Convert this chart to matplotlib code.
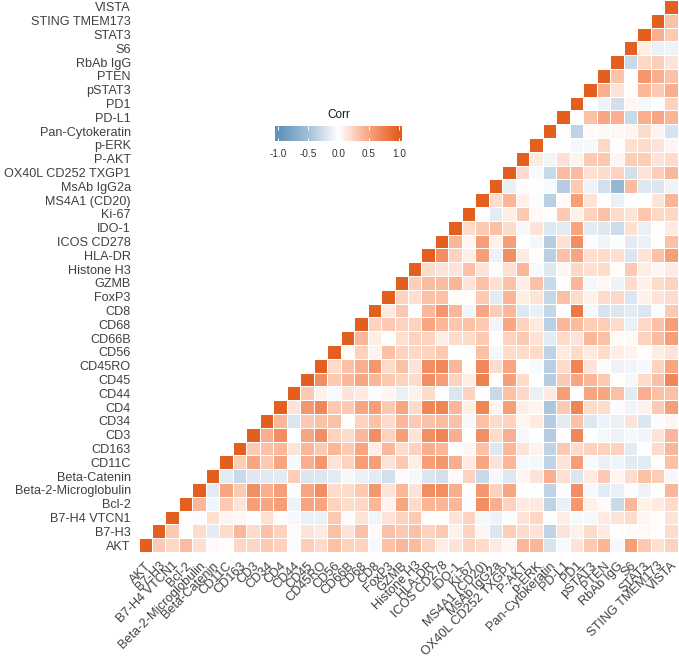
import numpy as np
from matplotlib import pyplot as plt
from matplotlib.colors import LinearSegmentedColormap, Normalize

plt.rcParams['font.family'] = ['Liberation Sans', 'DejaVu Sans']

markers = ['AKT', 'B7-H3', 'B7-H4 VTCN1', 'Bcl-2', 'Beta-2-Microglobulin', 'Beta-Catenin',
           'CD11C', 'CD163', 'CD3', 'CD34', 'CD4', 'CD44', 'CD45', 'CD45RO', 'CD56', 'CD66B',
           'CD68', 'CD8', 'FoxP3', 'GZMB', 'Histone H3', 'HLA-DR', 'ICOS CD278', 'IDO-1',
           'Ki-67', 'MS4A1 (CD20)', 'MsAb IgG2a', 'OX40L CD252 TXGP1', 'P-AKT', 'p-ERK',
           'Pan-Cytokeratin', 'PD-L1', 'PD1', 'pSTAT3', 'PTEN', 'RbAb IgG', 'S6', 'STAT3',
           'STING TMEM173', 'VISTA']
bar_ticks = [-1.0, -0.5, 0.0, 0.5, 1.0]

# correlations, each row starts right after the diagonal
r00 = [.3,.22,.38,.18,.03,.01,.23,.23,.3,.25,-.03,.27,.2,.35,.25,.25,-.04,.35,.4,.38,.25,.1,.15,.25,.2,.12,.05,.4,.4,-.22,-.04,.15,.3,.42,-.06,.55,.3,.18,.25]
r01 = [.3,0,.2,-.15,.2,.4,.2,.35,.25,.03,.15,.12,.35,.15,.35,.03,.35,.3,.35,.25,.3,.08,.25,.05,-.2,.28,.2,.15,-.35,.15,.08,.2,.12,.02,.03,.03,.02,.2]
r02 = [0,-.03,.18,.06,.04,-.02,.18,.02,-.05,-.12,-.12,.3,-.03,.15,-.08,.15,.25,.3,.02,.02,.15,.25,-.06,-.1,-.03,.15,.22,0,.1,-.04,-.05,.12,.15,.2,.05,.02,.15]
r03 = [.4,-.08,.3,.15,.55,.5,.55,-.1,.5,.5,.25,.2,.22,.4,.07,.5,.2,.42,.42,.4,-.03,.65,.45,.25,.12,.12,-.35,-.12,.6,.08,.03,-.3,.4,.08,.12,.2]
r04 = [-.15,.5,.3,.65,.45,.55,-.03,.5,.65,.2,.2,.3,.6,.15,.4,.15,.65,.65,.45,-.02,.6,.25,.5,-.01,-.01,-.35,-.03,.65,-.05,-.15,-.12,-.03,-.1,.01,.4]
r05 = [-.15,-.3,-.18,-.17,-.15,.28,-.2,-.2,-.15,-.05,-.12,-.15,-.25,-.03,-.05,-.2,-.25,.03,.25,-.3,-.05,-.18,.05,.15,.45,.18,-.2,.12,.3,.05,.2,.35,.28,-.06]
r06 = [.28,.5,.3,.5,-.05,.45,.6,.15,.25,.55,.55,.15,.3,.1,.55,.6,.45,.12,.5,.15,.4,-.05,-.06,-.35,.15,.55,-.04,-.12,-.08,-.15,-.15,.02,.35]
r07 = [.3,.35,.4,.15,.4,.3,.4,.3,.5,.1,.4,.2,.25,.45,.4,.02,.05,.35,-.18,.4,.15,.07,-.35,.3,.2,.25,.25,.25,-.15,0,.2,.4]
r08 = [.45,.65,-.02,.5,.65,.25,.2,.4,.65,.25,.55,.15,.65,.72,.45,-.01,.65,.2,.45,-.05,-.01,-.4,.02,.7,0,-.06,-.1,-.05,-.08,.15,.4]
r09 = [.4,-.2,.3,.35,.35,0,.25,.35,.2,.4,.3,.35,.38,.35,-.05,.35,.2,.25,.05,.12,-.4,-.15,.35,-.18,-.1,-.12,.15,-.2,-.03,.05]
r10 = [.15,.6,.7,.3,.3,.5,.55,.3,.5,.2,.7,.72,.4,.1,.72,.05,.55,.1,.05,-.45,.3,.72,.2,.2,-.03,-.08,.08,.3,.55]
r11 = [.3,.08,-.04,.15,.12,-.03,.05,-.12,.08,.2,0,-.2,.25,0,-.3,.35,.22,-.12,.12,.55,0,.5,.5,.35,-.15,.45,.35,.35]
r12 = [.65,.3,.4,.5,.4,.3,.25,.2,.65,.55,.25,.1,.75,.02,.55,.2,0,-.4,.3,.5,.4,.3,.02,-.06,.2,.35,.7]
r13 = [.2,.35,.45,.6,.2,.35,.15,.65,.7,.4,.02,.7,.2,.5,.01,-.04,-.38,.2,.72,.15,-.03,-.1,-.08,-.05,.25,.5]
r14 = [.01,.25,.07,.35,.25,.22,.25,.3,0,-.01,.35,-.06,.2,.2,.2,-.35,.12,.2,.12,.2,.1,.07,.02,.1,.15]
r15 = [.4,.1,0,.18,.25,.25,.1,.2,.2,.3,0,.25,.3,.15,-.15,.2,.15,.4,.35,.03,.03,.25,.38,.55]
r16 = [.25,.3,.25,.25,.5,.4,.32,.35,.3,-.08,.5,.25,.12,-.38,.4,.38,.28,.28,.2,-.12,.22,.35,.55]
r17 = [.12,.32,-.03,.4,.6,.4,-.08,.5,.28,.4,-.18,-.12,-.32,0,.8,-.05,-.22,-.2,-.15,-.2,-.03,.3]
r18 = [.25,.18,.35,.35,.02,.02,.3,-.15,.42,.1,.15,-.32,.35,.2,.08,.2,.22,-.2,.08,.15,.2]
r19 = [.28,.38,.38,.42,.15,.35,.18,.35,.1,.35,-.3,.01,.4,-.06,.04,-.1,.2,.08,.2,.25]
r20 = [.2,.15,.15,.35,.15,.01,.18,.4,-.04,-.18,.05,.22,.18,.2,.02,.3,.1,.05,.12]
r21 = [.65,.25,.1,.55,-.1,.65,.12,.01,-.38,.35,.5,.18,.2,.18,-.2,.15,.35,.55]
r22 = [.4,.05,.55,.08,.55,0,-.06,-.4,.18,.65,-.03,-.08,-.03,-.15,-.12,.02,.35]
r23 = [.2,.3,.35,.2,-.05,.15,-.18,-.15,.5,-.15,-.18,-.28,.18,-.12,0,.12]
r24 = [0,-.15,.1,.3,.03,0,.3,.08,.25,.35,.2,.15,.32,.22,.22]
r25 = [.2,.42,.08,-.03,-.38,.03,.55,.15,-.02,-.12,0,-.01,.15,.42]
r26 = [-.13,-.03,-.01,-.04,-.4,.3,-.1,-.25,-.6,.38,-.18,-.2,-.1]
r27 = [.2,-.04,-.3,.38,.38,.18,.2,.25,-.25,.15,.28,.4]
r28 = [.12,-.08,.17,.07,.3,.32,.05,.28,.28,.15,.2]
r29 = [-.01,-.01,-.05,-.05,.22,0,.18,.2,.15,.05]
r30 = [0,-.35,.03,.04,.04,.06,.2,.07,-.22]
r31 = [0,.35,.5,.45,-.3,.45,.5,.42]
r32 = [0,-.1,-.25,.05,-.05,-.02,.25]
r33 = [.45,.15,.01,.4,.3,.45]
r34 = [.33,0,.6,.45,.35]
r35 = [-.3,.22,.28,.15]
r36 = [.1,-.12,-.1]
r37 = [.45,.3]
r38 = [.35]

rows = [r00, r01, r02, r03, r04, r05, r06, r07, r08, r09, r10, r11, r12, r13, r14, r15, r16, r17, r18, r19,
        r20, r21, r22, r23, r24, r25, r26, r27, r28, r29, r30, r31, r32, r33, r34, r35, r36, r37, r38]


def build_matrix():
	n = len(markers)
	corr = np.full((n, n), np.nan)
	for i in range(n):
		corr[i, i] = 1.0
	for i, row in enumerate(rows):
		corr[i, i + 1:] = row
	return corr


def main():
	W, H = 679, 661
	fig = plt.figure(figsize=(W / 100, H / 100), dpi=100)
	ax = fig.add_axes([138.5 / W, (H - 552) / H, 539.0 / W, 552.0 / H])

	# ggplot blends in Lab space, so the middle of each arm is stronger than a plain rgb blend
	cmap = LinearSegmentedColormap.from_list('corr', [
		(0.0, '#5F93BC'), (0.25, '#A3C0DA'), (0.375, '#D2E0EC'), (0.5, '#FFFFFF'),
		(0.625, '#FDD3BF'), (0.75, '#F8A683'), (0.875, '#EE8050'), (1.0, '#E35F1F')])
	norm = Normalize(-1, 1)
	corr = build_matrix()
	edges = np.arange(len(markers) + 1) - 0.5
	ax.pcolormesh(edges, edges, np.ma.masked_invalid(corr), cmap=cmap, norm=norm,
	              edgecolors='white', linewidth=0.5)

	ax.set_xlim(edges[0], edges[-1])
	ax.set_ylim(edges[0], edges[-1])
	ax.set_xticks(range(len(markers)))
	ax.set_yticks(range(len(markers)))
	ax.set_xticklabels(markers, rotation=45, ha='right', va='top', rotation_mode='anchor',
	                   fontsize=9.2, color='#404040')
	ax.set_yticklabels(markers, fontsize=9.1, color='#404040')
	ax.tick_params(length=0, pad=5.5)
	for spine in ax.spines.values():
		spine.set_visible(False)

	# legend bar, runs a little past +-1 like the ggplot one
	cax = fig.add_axes([275.0 / W, (H - 141.5) / H, 127.0 / W, 15.5 / H])
	grad = np.linspace(-1.05, 1.05, 256).reshape(1, -1)
	cax.imshow(grad, cmap=cmap, norm=norm, aspect='auto', extent=(-1.05, 1.05, 0, 1))
	cax.set_yticks([])
	cax.set_xticks(bar_ticks)
	cax.set_xticklabels(['%.1f' % t for t in bar_ticks], fontsize=7.2, color='#333333')
	cax.tick_params(axis='x', direction='in', top=True, color='white', length=3, width=0.7, pad=5.5)
	for spine in cax.spines.values():
		spine.set_visible(False)
	cax.set_title('Corr', fontsize=8.5, color='#1A1A1A', pad=6)

	fig.savefig('out.png', dpi=100)


if __name__ == "__main__":
	main()
